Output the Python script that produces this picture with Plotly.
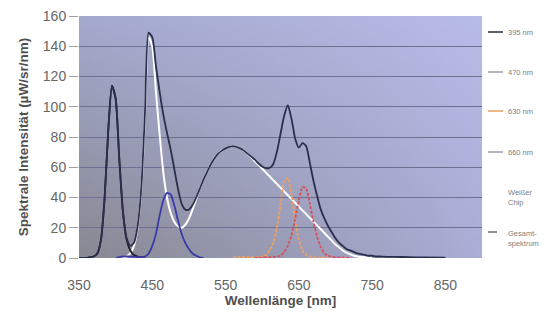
import base64, struct, zlib
import plotly.graph_objects as go

# ---------------- data ----------------
wl_395 = [350, 355, 360, 365, 370, 375, 380, 385, 390, 395, 400, 405, 410, 415, 420, 425, 430, 435, 440]
v_395 = [0, 0, 0, 0.5, 1, 3, 12, 40, 85, 114, 105, 65, 30, 12, 5, 2, 1, 0.5, 0]

wl_470 = [400, 410, 420, 430, 435, 440, 445, 450, 455, 460, 465, 470, 475, 480, 485, 490, 495, 500, 505, 510, 515, 520]
v_470 = [0, 1, 1, 0.5, 0.5, 1, 3, 8, 16, 28, 38, 43, 42, 35, 25, 16, 10, 6, 3, 1.5, 0.5, 0]

wl_630 = [560, 570, 580, 590, 600, 605, 610, 615, 620, 625, 630, 635, 640, 645, 650, 655, 660, 665, 670, 680, 690]
v_630 = [0.3, 0.5, 0.5, 0.5, 1, 2, 5, 10, 20, 35, 50, 53, 42, 25, 12, 5, 2, 1, 0.5, 0.3, 0]

wl_660 = [590, 600, 610, 620, 625, 630, 635, 640, 645, 650, 655, 660, 665, 670, 675, 680, 685, 690, 700, 710, 720]
v_660 = [0, 0.3, 0.5, 1, 1.5, 4, 8, 15, 26, 38, 47, 46, 36, 24, 14, 7, 3, 1.5, 0.5, 0.3, 0]

wl_white = list(range(400, 755, 5))
v_white = [0, 0, 0.5, 1, 3, 8, 20, 45, 95, 146, 140, 110, 82, 57, 40, 30, 24, 21, 20, 22,
           26, 32, 39, 46, 52, 57, 62, 66, 69, 71, 72.5, 73.5, 74, 73.5, 72.5, 71, 69, 66.5, 64, 61.5,
           59, 56.5, 54, 51.5, 49, 46.5, 44, 41.5, 39, 36.5, 34, 31.5, 29, 26.5, 24, 21.5, 19, 16.5, 14, 11.5,
           9, 7, 5, 3.5, 2.5, 1.5, 1, 0.7, 0.5, 0.2, 0]

wl_total = list(range(350, 765, 5)) + [770, 780, 800, 820, 850]
v_total = [0, 0, 0, 0.5, 1, 3, 12, 40, 85, 114, 106, 66, 31, 13, 8, 10, 21, 46, 96, 149,
           146, 127, 110, 95, 83, 72, 59, 46, 36, 32, 32, 35, 40, 46, 52, 57, 62, 66, 69, 71,
           72.5, 73.5, 74, 73.5, 72.5, 71, 69, 67, 65, 62.5, 60.5, 59.5, 59.5, 62, 70, 82, 94, 101, 92, 79,
           73, 76, 74, 63, 51, 41, 32, 26, 21, 17, 13, 10, 8, 6, 5, 4, 3, 2.5, 2, 1.5,
           1.5, 1, 1, 0.8, 0.8, 0.5, 0.4, 0.3]

names = ["395 nm", "470 nm", "630 nm", "660 nm", "Weißer<br>Chip", "Gesamt-<br>spektrum"]
x_ticks = [350, 450, 550, 650, 750, 850]
y_ticks = [0, 20, 40, 60, 80, 100, 120, 140, 160]

assert len(wl_white) == len(v_white)
assert len(wl_total) == len(v_total)

# ---------------- gradient background image ----------------
def gradient_png(w, h, tl, tr, bl, br):
    rows = []
    for j in range(h):
        v = j / (h - 1)  # 0 top, 1 bottom
        row = bytearray([0])
        for i in range(w):
            u = i / (w - 1)
            for c in range(3):
                top = tl[c] * (1 - u) + tr[c] * u
                bot = bl[c] * (1 - u) + br[c] * u
                row.append(int(round(top * (1 - v) + bot * v)))
        rows.append(bytes(row))
    raw = b"".join(rows)

    def chunk(t, d):
        return struct.pack(">I", len(d)) + t + d + struct.pack(">I", zlib.crc32(t + d) & 0xFFFFFFFF)

    return (b"\x89PNG\r\n\x1a\n" + chunk(b"IHDR", struct.pack(">IIBBBBB", w, h, 8, 2, 0, 0, 0))
            + chunk(b"IDAT", zlib.compress(raw)) + chunk(b"IEND", b""))

png = gradient_png(96, 64, (164, 169, 206), (183, 187, 231), (136, 137, 146), (170, 173, 214))
src = "data:image/png;base64," + base64.b64encode(png).decode()

# ---------------- figure ----------------
# the page body has an 8px margin, so figure coords = screen coords - 8
OFF = 8
W, H = 552, 316
PL, PR, PT, PB = 79, 482, 16, 258          # plot area in screen pixels
ML, MT = PL - OFF, PT - OFF
PW, PH = PR - PL, PB - PT
MR, MB = W - ML - PW, H - MT - PH

def px(sx):
    return (sx - PL) / PW

def py(sy):
    return (PB - sy) / PH

fig = go.Figure()
styles = [
    (wl_white, v_white, names[4], "#ffffff", 2.0, "solid"),
    (wl_395, v_395, names[0], "#1f1f2a", 1.8, "solid"),
    (wl_470, v_470, names[1], "#3a3aa8", 1.8, "solid"),
    (wl_630, v_630, names[2], "#f2a05a", 1.8, "3px,1.5px"),
    (wl_660, v_660, names[3], "#d8505a", 1.8, "3px,1.5px"),
    (wl_total, v_total, names[5], "#2b2f4c", 1.8, "solid"),
]
for xs, ys, nm, col, w, dash in styles:
    fig.add_trace(go.Scatter(
        x=xs, y=ys, name=nm.replace("<br>", " "), mode="lines", showlegend=False,
        line=dict(color=col, width=w, dash=dash, shape="spline", smoothing=0.6),
    ))

fig.add_layout_image(dict(source=src, xref="paper", yref="paper", x=0, y=1,
                          sizex=1, sizey=1, sizing="stretch", layer="below", xanchor="left", yanchor="top"))

# manual legend (right of the plot), screen y positions
legend_items = [
    (names[0], "#2a2a35", "solid", 32),
    (names[1], "#9a9aa8", "solid", 72),
    (names[2], "#e8a060", "solid", 111),
    (names[3], "#9a9aa8", "solid", 152),
    (names[4], "#ffffff", "solid", 198),
    (names[5], "#6a6a78", "dash", 238),
]
for label, col, dash, yc in legend_items:
    nlines = label.count("<br>") + 1
    line_y = yc if nlines == 1 else yc - 6
    fig.add_shape(type="line", xref="paper", yref="paper",
                  x0=px(488), x1=px(503), y0=py(line_y), y1=py(line_y),
                  line=dict(color=col, width=1.5, dash=dash))
    fig.add_annotation(xref="paper", yref="paper", x=px(506), y=py(yc),
                       xanchor="left", yanchor="middle", align="left", showarrow=False,
                       text=label, font=dict(size=7.5, color="#808080"))

fig.update_layout(
    width=W, height=H,
    margin=dict(l=ML, r=MR, t=MT, b=MB),
    paper_bgcolor="#ffffff",
    plot_bgcolor="rgba(0,0,0,0)",
    font=dict(family="Liberation Sans, Arial, sans-serif", color="#5a5a5a"),
    showlegend=False,
)
fig.update_xaxes(
    range=[350, 900], tickvals=x_ticks, ticktext=[str(t) for t in x_ticks],
    tickfont=dict(size=14, color="#666666"), showgrid=False, zeroline=False,
    showline=False, ticks="outside", ticklen=14, tickcolor="rgba(0,0,0,0)", automargin=False,
    ticklabeloverflow="allow",
    title=dict(text="<b>Wellenlänge [nm]</b>", font=dict(size=13.5, color="#505050"), standoff=0),
)
fig.update_yaxes(
    range=[0, 160], tickvals=y_ticks, ticktext=[str(t) for t in y_ticks],
    tickfont=dict(size=14, color="#666666"), showgrid=True, gridcolor="#6d7090", gridwidth=1,
    zeroline=False, showline=False, ticks="outside", ticklen=9, tickcolor="#a0a0a0", automargin=False,
    ticklabeloverflow="allow",
    title=dict(text="<b>Spektrale Intensität (µW/sr/nm)</b>", font=dict(size=13.5, color="#505050"), standoff=11),
)

fig.write_html("out.html")
